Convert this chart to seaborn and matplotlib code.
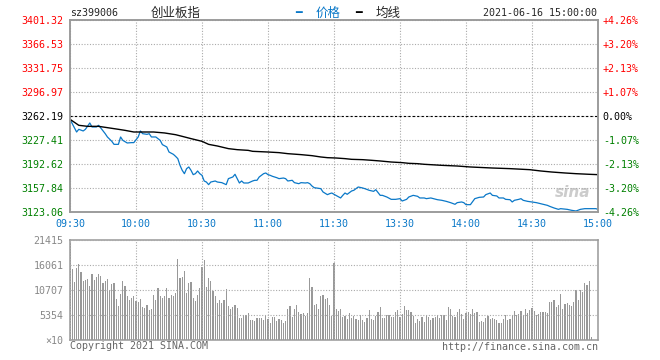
import matplotlib
matplotlib.use("Agg")
import matplotlib.pyplot as plt
import seaborn as sns

# intraday data, minutes counted from 09:30 (lunch break removed)
prev_close = 3262.19

price_min = [0, 3, 4, 6, 7, 9, 10, 12, 13, 14, 16, 17, 19, 20, 22, 23, 24, 26, 28, 29,
             31, 32, 33, 35, 36, 37, 39, 41, 42, 44, 45, 47, 48, 49, 50, 51, 52, 53, 54, 55,
             56, 57, 58, 59, 60, 61, 62, 63, 64, 66, 67, 69, 71, 72, 74, 75, 76, 77, 78, 79,
             81, 83, 84, 85, 86, 88, 89, 90, 91, 92, 94, 95, 97, 98, 99, 101, 102, 104, 105, 107,
             108, 109, 110, 111, 114, 115, 117, 118, 119, 120, 123, 124, 125, 126, 128, 129, 131, 133, 134, 136,
             138, 139, 141, 142, 144, 146, 148, 150, 151, 153, 154, 156, 158, 159, 161, 162, 164, 167, 169, 171,
             173, 175, 176, 178, 179, 180, 182, 184, 186, 188, 189, 191, 192, 194, 195, 197, 198, 200, 201, 202,
             204, 205, 206, 208, 210, 212, 214, 217, 218, 220, 222, 223, 226, 228, 230, 232, 234, 236, 239, 240]
price_val = [3257.4, 3239.0, 3242.9, 3240.5, 3242.9, 3252.1, 3246.3, 3246.3, 3248.7, 3244.8,
             3236.6, 3231.8, 3225.5, 3221.1, 3221.1, 3231.8, 3226.9, 3223.1, 3223.6, 3223.6,
             3231.8, 3240.5, 3236.6, 3235.6, 3236.6, 3231.8, 3231.8, 3226.9, 3220.7, 3217.3,
             3210.0, 3206.6, 3203.7, 3200.4, 3190.7, 3183.5, 3178.6, 3185.9, 3188.3, 3183.5,
             3177.2, 3178.6, 3182.5, 3178.6, 3176.2, 3168.0, 3166.5, 3162.7, 3166.5, 3168.0,
             3166.5, 3165.6, 3162.7, 3171.4, 3173.8, 3177.7, 3171.4, 3165.1, 3168.0, 3165.1,
             3165.1, 3168.0, 3169.0, 3169.0, 3173.8, 3178.6, 3179.6, 3177.2, 3176.2, 3174.8,
             3172.8, 3171.4, 3172.3, 3171.4, 3168.0, 3169.0, 3165.6, 3164.1, 3165.6, 3165.1,
             3165.6, 3164.1, 3160.7, 3158.3, 3156.9, 3152.1, 3148.2, 3149.6, 3150.6, 3148.7,
             3143.4, 3147.2, 3150.6, 3148.7, 3153.5, 3154.5, 3159.3, 3157.9, 3156.9, 3154.5,
             3153.0, 3155.4, 3147.2, 3147.2, 3144.8, 3141.4, 3141.4, 3142.4, 3139.0, 3141.4,
             3144.8, 3147.2, 3145.8, 3143.4, 3143.4, 3142.4, 3143.4, 3140.9, 3140.0, 3138.5,
             3136.6, 3134.2, 3136.6, 3137.6, 3136.6, 3133.7, 3133.7, 3142.4, 3144.3, 3144.8,
             3148.2, 3150.6, 3147.2, 3146.3, 3143.4, 3143.4, 3141.4, 3140.9, 3137.6, 3140.0,
             3141.4, 3142.4, 3140.0, 3138.5, 3137.6, 3136.6, 3135.1, 3132.7, 3131.3, 3128.9,
             3126.9, 3127.9, 3126.9, 3125.5, 3124.5, 3126.9, 3127.9, 3127.9, 3127.9, 3126.9]

avg_min = [0, 4, 8, 13, 17, 22, 25, 29, 38, 43, 48, 51, 55, 60, 63, 67, 72, 76, 81, 83,
           90, 95, 99, 105, 110, 114, 117, 121, 125, 128, 133, 137, 141, 146, 151, 154, 158, 161, 169, 176,
           182, 192, 200, 209, 214, 219, 225, 230, 236, 240]
avg_val = [3257.4, 3248.7, 3247.2, 3247.2, 3245.3, 3242.9, 3241.4, 3239.0, 3239.0, 3237.6,
           3235.1, 3232.7, 3229.4, 3225.5, 3221.1, 3218.7, 3214.9, 3213.4, 3212.4, 3211.0,
           3210.0, 3209.1, 3207.6, 3206.2, 3204.7, 3202.8, 3201.8, 3201.3, 3200.4, 3199.4,
           3198.9, 3198.0, 3197.0, 3195.5, 3194.6, 3193.6, 3193.1, 3192.2, 3190.7, 3189.7,
           3188.3, 3186.8, 3185.9, 3184.4, 3182.5, 3181.0, 3179.6, 3178.6, 3177.7, 3177.2]

# volume per minute (x10)
volume = [20840, 15275, 12420, 15490, 16200, 14560, 12630, 12850, 13130, 11560,
          14060, 12850, 13560, 14060, 13700, 12280, 12630, 13130, 10710, 11920,
          12130, 8850, 7280, 9780, 12630, 11560, 9420, 8570, 8990, 9420,
          8350, 8140, 8850, 7070, 6920, 7490, 6420, 6710, 9640, 8570,
          11060, 9420, 8990, 9420, 11060, 8990, 9560, 9420, 9990, 17420,
          13210, 13560, 14780, 9990, 12130, 12420, 8990, 8350, 9640, 11210,
          15630, 17130, 11350, 13280, 12630, 10490, 9420, 7990, 8570, 7990,
          8570, 10850, 7280, 6710, 7140, 7490, 6850, 4780, 4780, 5280,
          5280, 5710, 4280, 4280, 4070, 4640, 4640, 4640, 4280, 5140,
          4570, 3710, 4930, 4930, 4070, 4430, 4280, 3570, 4070, 6570,
          7280, 4930, 6570, 7500, 6000, 5500, 5710, 5140, 5710, 13280,
          11350, 7420, 7640, 6570, 9420, 9640, 8850, 8990, 7500, 5140,
          16420, 6570, 6210, 6570, 4930, 5140, 4430, 5710, 4640, 5140,
          4430, 4280, 5350, 4280, 3860, 4640, 6420, 4430, 4280, 5140,
          6000, 7070, 4640, 4640, 5350, 5350, 4930, 4930, 6000, 6420,
          4930, 5500, 7280, 6420, 6420, 6000, 5140, 3570, 4430,
          4070, 5000, 3860, 5350, 4930, 4280, 4640, 5000, 5350, 4640,
          5350, 5280, 4280, 7070, 6570, 5140, 4930, 6000, 6640, 5640,
          4430, 5710, 6000, 5640, 6640, 5710, 6000, 3860, 4070, 3860,
          4640, 5140, 4430, 4640, 4430, 4280, 3570, 3570, 4430, 5350,
          4280, 4430, 5350, 6210, 5350, 5500, 6210, 5350, 6640, 5710,
          6420, 6920, 6210, 5350, 5640, 6000, 6000, 6000, 5710, 8140,
          8140, 8570, 7070, 7500, 9850, 6640, 7640, 7850, 7500, 7280,
          8140, 10710, 8570, 10710, 10280, 12210, 11710, 12630, 640]

left_labels = ['3401.32', '3366.53', '3331.75', '3296.97', '3262.19',
               '3227.41', '3192.62', '3157.84', '3123.06']
right_labels = ['+4.26%', '+3.20%', '+2.13%', '+1.07%', '0.00%',
                '-1.07%', '-2.13%', '-3.20%', '-4.26%']
time_labels = ['09:30', '10:00', '10:30', '11:00', '11:30', '13:30', '14:00', '14:30', '15:00']
vol_labels = ['21415', '16061', '10707', '5354', '×10']
vol_ticks = [21415, 16061, 10707, 5354, 0]

sns.set_style('white')
plt.rcParams['font.family'] = ['DejaVu Sans Mono', 'Noto Sans CJK SC']

RED, GREEN, BLUE = '#ff0000', '#008000', '#0a78c8'
GRID = '#aaaaaa'
FS = 7.2

fig = plt.figure(figsize=(6.6, 3.6), dpi=100)
ax = fig.add_axes([70 / 660, 1 - 212 / 360, 528 / 660, 192 / 360])
axv = fig.add_axes([70 / 660, 1 - 340 / 360, 528 / 660, 100 / 360])

price_ticks = [float(s) for s in left_labels]
xticks = list(range(0, 241, 30))

# price panel
sns.lineplot(x=price_min, y=price_val, ax=ax, color=BLUE, linewidth=0.9, estimator=None)
sns.lineplot(x=avg_min, y=avg_val, ax=ax, color='black', linewidth=1.0, estimator=None)
ax.set_xlim(0, 240)
ax.set_ylim(price_ticks[-1], price_ticks[0])
ax.set_xticks(xticks)
ax.set_xticklabels(time_labels)
ax.set_yticks(price_ticks)
ax.set_yticklabels(left_labels)
ax.set_xlabel('')
ax.set_ylabel('')
ax.grid(True, color=GRID, linestyle=(0, (1, 1.5)), linewidth=0.8)
ax.axhline(prev_close, color='black', linestyle=(0, (2, 2)), linewidth=0.8, zorder=3)
ax.tick_params(axis='both', length=0, labelsize=FS)
ax.tick_params(axis='y', pad=4.5)
ax.tick_params(axis='x', pad=5, colors=BLUE)
for i, t in enumerate(ax.get_yticklabels()):
    t.set_color(RED if i < 4 else ('black' if i == 4 else GREEN))

ax2 = ax.twinx()
ax2.set_ylim(ax.get_ylim())
ax2.set_yticks(price_ticks)
ax2.set_yticklabels(right_labels)
ax2.tick_params(axis='y', length=0, labelsize=FS, pad=3.5)
for i, t in enumerate(ax2.get_yticklabels()):
    t.set_color(RED if i < 4 else ('black' if i == 4 else GREEN))
for a in (ax, ax2):
    for s in a.spines.values():
        s.set_color('#999999')
        s.set_linewidth(1.1)

ax.text(0.985, 0.06, 'sina', transform=ax.transAxes, ha='right', va='bottom',
        fontsize=11, fontstyle='italic', fontweight='bold', color='#cccccc',
        family='DejaVu Sans', zorder=0)

# volume panel
minutes = list(range(len(volume)))
sns.barplot(x=minutes, y=volume, ax=axv, native_scale=True, color='#999999',
            saturation=1, width=0.6, linewidth=0, antialiased=False)
axv.set_xlim(0, 240)
axv.set_ylim(0, 21415)
axv.set_xticks(xticks)
axv.set_xticklabels([])
axv.set_yticks(vol_ticks)
axv.set_yticklabels(vol_labels)
axv.set_xlabel('')
axv.set_ylabel('')
axv.grid(True, color=GRID, linestyle=(0, (1, 1.5)), linewidth=0.8)
axv.set_axisbelow(False)
axv.tick_params(axis='both', length=0, labelsize=FS, colors='#888888', pad=4.5)
for s in axv.spines.values():
    s.set_color('#999999')
    s.set_linewidth(1.1)

# header and footer texts
def px(x, y):
    return x / 660, 1 - y / 360

fig.text(*px(70, 13), 'sz399006', fontsize=FS, va='center', ha='left')
fig.text(*px(151, 13), '创业板指', fontsize=9, va='center', ha='left',
         family=['Noto Sans CJK SC', 'DejaVu Sans'])
fig.text(*px(295, 13), '━', fontsize=8, va='center', ha='left', color=BLUE,
         family='DejaVu Sans')
fig.text(*px(316, 13), '价格', fontsize=9, va='center', ha='left', color=BLUE,
         family=['Noto Sans CJK SC', 'DejaVu Sans'])
fig.text(*px(355, 13), '━', fontsize=8, va='center', ha='left', color='black',
         family='DejaVu Sans')
fig.text(*px(376, 13), '均线', fontsize=9, va='center', ha='left',
         family=['Noto Sans CJK SC', 'DejaVu Sans'])
fig.text(*px(597, 13), '2021-06-16 15:00:00', fontsize=FS, va='center', ha='right')
fig.text(*px(70, 346), 'Copyright 2021 SINA.COM', fontsize=FS, va='center', ha='left',
         color='#666666')
fig.text(*px(598, 347), 'http://finance.sina.com.cn', fontsize=FS, va='center', ha='right',
         color='#666666')

fig.savefig('out.png', dpi=100, facecolor='white')
